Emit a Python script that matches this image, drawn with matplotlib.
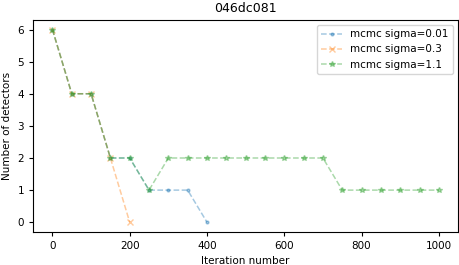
import numpy as np
import matplotlib
matplotlib.use("Agg")
import matplotlib.pyplot as plt

iters_001 = [0, 50, 100, 150, 200, 250, 300, 350, 400]
dets_001 = [6, 4, 4, 2, 2, 1, 1, 1, 0]

iters_03 = [0, 50, 100, 150, 200]
dets_03 = [6, 4, 4, 2, 0]

iters_11 = list(range(0, 1001, 50))
dets_11 = [6, 4, 4, 2, 2, 1, 2, 2, 2, 2, 2, 2, 2, 2, 2, 1, 1, 1, 1, 1, 1]

fig, ax = plt.subplots(figsize=(4.6, 2.65), dpi=100)

# thin dashed lines with small faded markers
ax.plot(iters_001, dets_001, '--', marker='.', ms=4, lw=1.1, alpha=0.4, label='mcmc sigma=0.01')
ax.plot(iters_03, dets_03, '--', marker='x', ms=4, lw=1.1, alpha=0.4, label='mcmc sigma=0.3')
ax.plot(iters_11, dets_11, '--', marker='*', ms=4, lw=1.1, alpha=0.4, label='mcmc sigma=1.1')

ax.set_title('046dc081', fontsize=9)
ax.set_xlabel('Iteration number', fontsize=7.5)
ax.set_ylabel('Number of detectors', fontsize=7.5)
ax.tick_params(labelsize=7.5, length=3)
ax.legend(fontsize=7.5)

fig.subplots_adjust(left=0.072, right=0.996, top=0.925, bottom=0.125)
fig.savefig('out.png')
